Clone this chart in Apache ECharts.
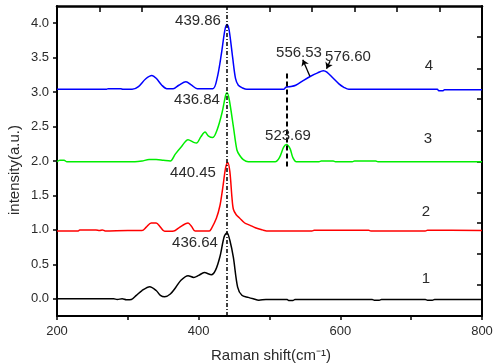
<!DOCTYPE html>
<html><head><meta charset="utf-8">
<script src="https://cdn.jsdelivr.net/npm/echarts@6/dist/echarts.min.js"></script>
<style>html,body{margin:0;padding:0;background:#fff}#c{width:500px;height:364px}</style>
</head><body><div id="c"></div>
<script>
// Spectrum 1 (black)
const shift1 = [200,280,285,292,298,305,312,320,331,340,346,352,360,368,375,385,393,400,408,418,424,430,436,440,444,449,455,461,470,477,485,495,525,527,533,536,600,645,648,655,658,720,723,730,733,800];
const int1   = [0,0,-0.01,0,-0.015,-0.01,0.05,0.12,0.175,0.12,0.05,0.03,0.07,0.17,0.27,0.335,0.31,0.34,0.38,0.35,0.42,0.61,0.9,0.96,0.85,0.6,0.17,0.05,0.02,0,-0.02,-0.01,-0.01,-0.025,-0.025,-0.01,-0.01,-0.01,-0.02,-0.02,-0.01,-0.01,-0.02,-0.02,-0.01,-0.01];
// Spectrum 2 (red)
const shift2 = [200,230,232,255,260,264,268,300,320,326,333,340,346,352,365,372,385,390,395,415,418,425,430,434,438,441,444,447,449,453,458,465,472,480,490,496,560,563,640,643,720,723,800];
const int2   = [0.985,0.985,1.0,1.0,0.99,1.0,0.985,0.99,0.99,1.04,1.1,1.1,1.04,0.98,0.985,1.03,1.1,1.05,0.985,0.985,1.02,1.17,1.35,1.61,1.9,1.98,1.85,1.47,1.3,1.22,1.17,1.1,1.07,1.03,1.0,0.985,0.985,0.995,0.995,0.985,0.985,0.995,0.99];
// Spectrum 3 (green)
const shift3 = [200,204,210,214,310,320,330,340,350,360,367,375,385,393,397,403,409,414,420,426,433,438,440,443,449,454,458,463,470,508,514,520,524,529,533,538,570,573,590,593,617,620,650,653,800];
const int3   = [1.99,2.01,2.01,1.99,1.99,2.0,2.02,2.02,2.01,2.0,2.1,2.2,2.31,2.27,2.26,2.35,2.42,2.36,2.34,2.45,2.7,2.95,2.99,2.9,2.5,2.16,2.08,2.02,1.99,1.99,2.05,2.2,2.24,2.18,2.05,1.99,1.99,2.0,2.0,1.99,1.99,2.0,2.0,1.99,1.99];
// Spectrum 4 (blue)
const shift4 = [200,270,272,290,293,306,315,325,334,340,348,355,364,372,382,390,398,420,426,432,437,440,443,448,452,456,462,468,520,523,530,537,548,558,568,576,581,590,598,605,612,737,739,745,747,800];
const int4   = [3.04,3.04,3.05,3.05,3.04,3.04,3.08,3.19,3.24,3.2,3.1,3.05,3.05,3.1,3.15,3.1,3.05,3.05,3.2,3.55,3.9,3.98,3.9,3.5,3.2,3.1,3.06,3.04,3.04,3.07,3.08,3.1,3.17,3.23,3.28,3.31,3.29,3.2,3.12,3.07,3.04,3.04,3.02,3.02,3.035,3.035];

const yTicks = [0,0.5,1,1.5,2,2.5,3,3.5,4];
const rightTicks = [0.2,0.65,1.1,1.54,1.99,2.44,2.91,3.34,3.81];
const topTicks = [260,320,500,560,620,680,740];
const peakLabels = ['439.86','436.84','440.45','436.64','523.69','556.53','576.60'];
const curveNames = ['1','2','3','4'];

const pairs = (xs, ys) => xs.map((x, i) => [x, ys[i]]);
const chart = echarts.init(document.getElementById('c'));
const txt = '#2a2a2a';
const font = 'Liberation Sans, Arial, sans-serif';
const lineS = (data, color) => ({
  type: 'line', data, showSymbol: false, smooth: 0.3, animation: false,
  lineStyle: {color, width: 1.5}, itemStyle: {color}, z: 3
});
const s1 = lineS(pairs(shift1, int1), '#000000');
s1.markLine = {
  silent: true, symbol: ['none','none'], label: {show: false}, animation: false,
  data: [
    [{coord: [439.5, -0.25], lineStyle: {type: [4,2,1,2], color: '#000', width: 1.5}}, {coord: [439.5, 4.25]}],
    [{coord: [524, 1.92], lineStyle: {type: [5,3], color: '#000', width: 2}}, {coord: [524, 3.28]}]
  ]
};
const s4 = lineS(pairs(shift4, int4), '#0000ff');
s4.markLine = {
  silent: true, label: {show: false}, animation: false, symbolSize: 6,
  lineStyle: {type: 'solid', color: '#000', width: 1.3},
  data: [
    [{coord: [547, 3.47], symbol: 'arrow'}, {coord: [557, 3.23], symbol: 'none'}],
    [{coord: [585.5, 3.45], symbol: 'none'}, {coord: [580.5, 3.34], symbol: 'arrow'}]
  ]
};
const tx = (x, y, text, size) => ({type: 'text', x, y, style: {text, font: size + 'px ' + font, fill: txt, textAlign: 'center', textVerticalAlign: 'middle'}, z: 10});

chart.setOption({
  backgroundColor: '#fff',
  animation: false,
  grid: {left: 57, right: 18, top: 6, bottom: 48},
  xAxis: [
    {type: 'value', min: 200, max: 800, interval: 200, position: 'bottom',
     axisLine: {onZero: false, lineStyle: {color: '#000', width: 2}},
     axisTick: {inside: false, length: 4, lineStyle: {color: '#000', width: 1.5}},
     minorTick: {show: true, splitNumber: 2, length: 4, lineStyle: {color: '#000', width: 1.5}},
     splitLine: {show: false},
     axisLabel: {color: txt, fontSize: 13, fontFamily: font, margin: 9}},
    {type: 'value', min: 200, max: 800, position: 'top',
     axisLine: {onZero: false, lineStyle: {color: '#000', width: 2.5}},
     axisTick: {inside: true, length: 6, customValues: topTicks, lineStyle: {color: '#000', width: 1.5}},
     splitLine: {show: false}, axisLabel: {show: false}}
  ],
  yAxis: [
    {type: 'value', min: -0.25, max: 4.25, position: 'left',
     axisLine: {show: true, onZero: false, lineStyle: {color: '#000', width: 2}},
     axisTick: {show: true, length: 4, customValues: yTicks, lineStyle: {color: '#000', width: 1.5}},
     splitLine: {show: false},
     axisLabel: {color: txt, fontSize: 13, fontFamily: font, margin: 8, customValues: yTicks,
       formatter: v => v.toFixed(1)}},
    {type: 'value', min: -0.25, max: 4.25, position: 'right',
     axisLine: {show: true, onZero: false, lineStyle: {color: '#000', width: 2}},
     axisTick: {show: true, inside: true, length: 5, customValues: rightTicks, lineStyle: {color: '#000', width: 1.5}},
     splitLine: {show: false}, axisLabel: {show: false}}
  ],
  series: [s1, lineS(pairs(shift2, int2), '#ff0000'), lineS(pairs(shift3, int3), '#00ee00'), s4],
  graphic: [
    tx(198, 21, peakLabels[0], 15),
    tx(197, 100, peakLabels[1], 15),
    tx(193, 173, peakLabels[2], 15),
    tx(195, 243, peakLabels[3], 15),
    tx(288, 136, peakLabels[4], 15),
    tx(299, 53, peakLabels[5], 15),
    tx(348, 57, peakLabels[6], 15),
    tx(429, 66, curveNames[3], 15),
    tx(428, 139, curveNames[2], 15),
    tx(426, 212, curveNames[1], 15),
    tx(426, 279, curveNames[0], 15),
    {type: 'text', x: 15, y: 170, rotation: Math.PI / 2,
     style: {text: 'intensity(a.u.)', font: '15px ' + font, fill: txt, textAlign: 'center', textVerticalAlign: 'middle'}},
    tx(271, 356, 'Raman shift(cm⁻¹)', 15)
  ]
});
</script></body></html>
